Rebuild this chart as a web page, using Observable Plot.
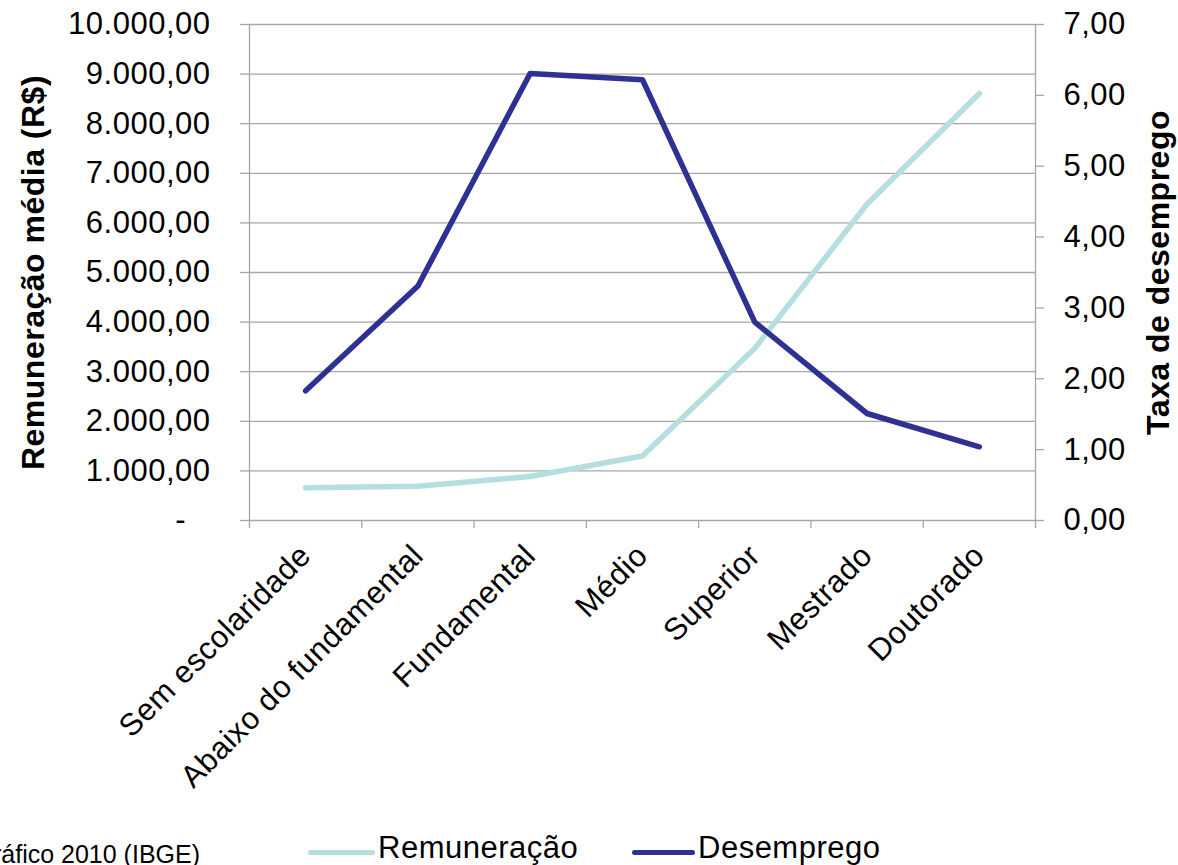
<!DOCTYPE html>
<html><head><meta charset="utf-8">
<script src="https://cdn.jsdelivr.net/npm/d3@7"></script>
<script src="https://cdn.jsdelivr.net/npm/@observablehq/plot@0.6"></script>
<style>
body{margin:0;background:#fff;font-family:"Liberation Sans",Arial,sans-serif;width:1178px;height:865px;overflow:hidden;position:relative;color:#000}
#chart{position:absolute;left:0;top:0}
.lg{position:absolute;font-size:31px;line-height:31px;letter-spacing:0.5px;white-space:nowrap}
.sw{position:absolute;height:5px;border-radius:3px}
#source{position:absolute;right:978px;top:842px;font-size:25px;line-height:25px;white-space:nowrap}
</style></head><body>
<div id="chart"></div>
<div class="sw" style="left:308px;top:850px;width:67px;background:#b4dee0"></div>
<div class="lg" style="left:378px;top:832px">Remuneração</div>
<div class="sw" style="left:632px;top:850px;width:63px;background:#2e3192"></div>
<div class="lg" style="left:698px;top:832px">Desemprego</div>
<div id="source">Fonte: Censo Demográfico 2010 (IBGE)</div>
<script>
const categories = ["Sem escolaridade","Abaixo do fundamental","Fundamental","Médio","Superior","Mestrado","Doutorado"];
const remuneracao = [660, 690, 887, 1300, 3470, 6380, 8610];
const desemprego = [1.83, 3.31, 6.31, 6.22, 2.80, 1.51, 1.04];
const leftTicks = [0,1000,2000,3000,4000,5000,6000,7000,8000,9000,10000];
const rightTicks = [0,1,2,3,4,5,6,7];
const leftMax = 10000, rightMax = 7;
const leftTitle = "Remuneração média (R$)";
const rightTitle = "Taxa de desemprego";

const loc = d3.formatLocale({decimal:",", thousands:".", grouping:[3], currency:["R$",""]});
const fmt = loc.format(",.2f");
const gray = "#a6a6a6";
const toLeft = v => v * leftMax / rightMax;
const idx = d3.range(categories.length);
const none = () => "";

const chart = Plot.plot({
  width: 1178, height: 820,
  marginLeft: 249, marginRight: 143, marginTop: 24, marginBottom: 300,
  style: {fontFamily: '"Liberation Sans", Arial, sans-serif', fontSize: "31px", letterSpacing: "0.5px", color: "#000", background: "#fff"},
  x: {type: "linear", domain: [-0.5, categories.length - 0.5]},
  y: {domain: [0, leftMax]},
  marks: [
    Plot.ruleY(leftTicks, {y: d => d, x1: -0.5, x2: categories.length - 0.5, stroke: gray, strokeWidth: 1.3}),
    Plot.ruleX([-0.5, categories.length - 0.5], {y1: 0, y2: leftMax, stroke: gray, strokeWidth: 1.3}),
    Plot.axisY({ticks: leftTicks, tickSize: 9, tickFormat: none, stroke: gray, strokeWidth: 1.3, label: null}),
    Plot.axisY({ticks: leftTicks, tickSize: 0, tickPadding: 39, label: null,
      tickFormat: d => d === 0 ? "-\u2007\u2009" : fmt(d)}),
    Plot.axisY({anchor: "right", ticks: rightTicks.map(toLeft), tickSize: 8, tickFormat: none, stroke: gray, strokeWidth: 1.3, label: null}),
    Plot.axisY({anchor: "right", ticks: rightTicks.map(toLeft), tickSize: 0, tickPadding: 28, label: null,
      tickFormat: d => fmt(d * rightMax / leftMax)}),
    Plot.axisX({ticks: d3.range(-0.5, categories.length, 1), tickSize: 8, tickFormat: none, stroke: gray, strokeWidth: 1.3, label: null}),
    Plot.axisX({ticks: idx, tickSize: 0, tickRotate: -45, tickPadding: 30, label: null,
      tickFormat: i => categories[i]}),
    Plot.lineY(remuneracao, {x: (d, i) => i, y: d => d, stroke: "#b4dee0", strokeWidth: 5.5, strokeLinecap: "round", strokeLinejoin: "round"}),
    Plot.lineY(desemprego, {x: (d, i) => i, y: d => toLeft(d), stroke: "#2e3192", strokeWidth: 5.5, strokeLinecap: "round", strokeLinejoin: "round"}),
    Plot.text([leftTitle], {text: d => d, frameAnchor: "left", textAnchor: "middle", dx: -216, rotate: -90, fontWeight: "bold", fontSize: 32, fill: "#000"}),
    Plot.text([rightTitle], {text: d => d, frameAnchor: "right", textAnchor: "middle", dx: 123, rotate: -90, fontWeight: "bold", fontSize: 32, fill: "#000"})
  ]
});
document.getElementById("chart").appendChild(chart);
</script>
</body></html>
